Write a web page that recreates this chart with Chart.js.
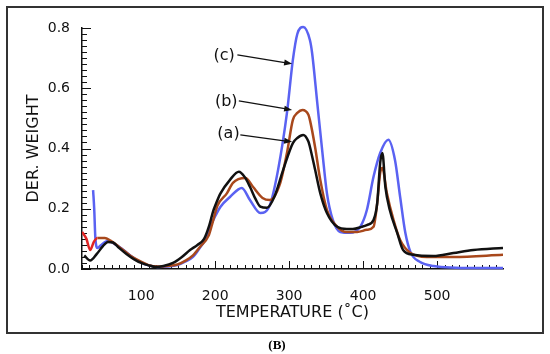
<!DOCTYPE html>
<html>
<head>
    <title>DTG curves (B)</title>
    <script src="https://cdn.jsdelivr.net/npm/chart.js@4.4.1/dist/chart.umd.min.js"></script>
    <style>
      body { margin: 0; background: #fff; }
      #wrap { width: 550px; height: 354px; }
    </style>
</head>
<body>
    <div id="wrap"><canvas id="myChart" width="550" height="354"></canvas></div>
    <script>
      // (a) black
      var tempA = [23, 31, 40, 48, 55, 62, 70, 80, 90, 100, 110, 120, 130, 143, 155, 166, 176, 185, 192, 197, 200, 207, 220, 232, 240, 247, 255, 261, 270, 280, 292, 305, 311, 319, 326, 328, 335, 342, 351, 365, 378, 386, 398, 405, 414, 419, 423, 426, 430, 436, 446, 454, 468, 495, 522, 549, 589];
      var derA  = [0.045, 0.028, 0.05, 0.075, 0.09, 0.088, 0.07, 0.05, 0.033, 0.02, 0.012, 0.007, 0.01, 0.02, 0.04, 0.063, 0.08, 0.1, 0.145, 0.19, 0.21, 0.25, 0.296, 0.323, 0.305, 0.273, 0.23, 0.207, 0.203, 0.24, 0.33, 0.418, 0.435, 0.445, 0.423, 0.406, 0.33, 0.252, 0.186, 0.14, 0.133, 0.133, 0.14, 0.146, 0.163, 0.219, 0.352, 0.385, 0.273, 0.196, 0.12, 0.063, 0.047, 0.043, 0.053, 0.063, 0.07];
      // (b) brown
      var tempB = [20, 26, 31, 36, 41, 51, 58, 72, 85, 99, 110, 122, 135, 149, 160, 170, 180, 191, 196, 203, 216, 224, 241, 251, 264, 274, 288, 297, 305, 311, 318, 326, 328, 335, 342, 351, 365, 378, 392, 405, 414, 419, 423, 426, 432, 441, 450, 464, 486, 522, 589];
      var derB  = [0.123, 0.1, 0.063, 0.09, 0.103, 0.103, 0.095, 0.07, 0.045, 0.025, 0.013, 0.008, 0.01, 0.015, 0.028, 0.045, 0.075, 0.11, 0.15, 0.21, 0.252, 0.286, 0.302, 0.273, 0.236, 0.229, 0.286, 0.385, 0.495, 0.518, 0.528, 0.512, 0.495, 0.405, 0.296, 0.196, 0.14, 0.123, 0.123, 0.13, 0.14, 0.219, 0.319, 0.335, 0.252, 0.163, 0.096, 0.053, 0.04, 0.04, 0.047];
      // (c) blue
      var tempC = [35, 36.5, 38, 41, 45, 55, 65, 76, 88, 99, 110, 122, 135, 149, 160, 170, 180, 187, 193, 200, 207, 220, 236, 247, 261, 274, 285, 297, 305, 311, 319, 328, 331, 338, 345, 351, 359, 369, 382, 396, 405, 414, 423, 434, 443, 450, 457, 464, 477, 495, 549, 589];
      var derC  = [0.262, 0.2, 0.106, 0.07, 0.078, 0.093, 0.082, 0.063, 0.04, 0.023, 0.012, 0.007, 0.008, 0.013, 0.025, 0.04, 0.073, 0.1, 0.14, 0.175, 0.206, 0.239, 0.269, 0.229, 0.186, 0.213, 0.329, 0.518, 0.694, 0.78, 0.803, 0.76, 0.717, 0.551, 0.385, 0.252, 0.163, 0.123, 0.12, 0.14, 0.196, 0.306, 0.385, 0.429, 0.362, 0.239, 0.12, 0.056, 0.023, 0.01, 0.003, 0.003];

      var xTicks = [100, 200, 300, 400, 500];
      var yTicks = [0, 0.2, 0.4, 0.6, 0.8];

      // labels with arrows: text at (tx,ty), arrow from (x0,y0) to (x1,y1), data units
      var callouts = [
        { text: '(c)', tx: 212, ty: 0.708, x0: 230, y0: 0.711, x1: 304, y1: 0.681 },
        { text: '(b)', tx: 215, ty: 0.555, x0: 232, y0: 0.558, x1: 304, y1: 0.528 },
        { text: '(a)', tx: 218, ty: 0.449, x0: 234, y0: 0.445, x1: 304, y1: 0.422 }
      ];

      function pts(xs, ys) {
        return xs.map(function(x, i) { return { x: x, y: ys[i] }; });
      }

      var font = 'DejaVu Sans';

      var extras = {
        id: 'extras',
        beforeDatasetsDraw: function(chart) {
          var ctx = chart.ctx, xs = chart.scales.x, ys = chart.scales.y;
          var a = chart.chartArea;
          ctx.save();
          ctx.strokeStyle = '#111';
          ctx.lineWidth = 1;
          ctx.beginPath();
          for (var v = 20; v <= 589; v += 10) {
            var px = Math.round(xs.getPixelForValue(v)) + 0.5;
            var len = (v % 100 === 0) ? 8 : 4;
            ctx.moveTo(px, a.bottom);
            ctx.lineTo(px, a.bottom - len);
          }
          for (var k = 0; k <= 40; k++) {
            var py = Math.round(ys.getPixelForValue(k * 0.02)) + 0.5;
            var l = (k % 10 === 0) ? 9 : 5;
            ctx.moveTo(a.left, py);
            ctx.lineTo(a.left + l, py);
          }
          ctx.stroke();
          ctx.restore();
        },
        afterDraw: function(chart) {
          var ctx = chart.ctx, xs = chart.scales.x, ys = chart.scales.y;
          ctx.save();
          // callouts
          ctx.fillStyle = '#111';
          ctx.strokeStyle = '#111';
          ctx.lineWidth = 1.2;
          ctx.font = '16px ' + font;
          ctx.textAlign = 'center';
          ctx.textBaseline = 'middle';
          callouts.forEach(function(c) {
            ctx.fillText(c.text, xs.getPixelForValue(c.tx), ys.getPixelForValue(c.ty));
            var x0 = xs.getPixelForValue(c.x0), y0 = ys.getPixelForValue(c.y0);
            var x1 = xs.getPixelForValue(c.x1), y1 = ys.getPixelForValue(c.y1);
            var ang = Math.atan2(y1 - y0, x1 - x0);
            ctx.beginPath();
            ctx.moveTo(x0, y0);
            ctx.lineTo(x1 - 6 * Math.cos(ang), y1 - 6 * Math.sin(ang));
            ctx.stroke();
            ctx.beginPath();
            ctx.moveTo(x1, y1);
            ctx.lineTo(x1 - 8 * Math.cos(ang) + 3 * Math.sin(ang), y1 - 8 * Math.sin(ang) - 3 * Math.cos(ang));
            ctx.lineTo(x1 - 8 * Math.cos(ang) - 3 * Math.sin(ang), y1 - 8 * Math.sin(ang) + 3 * Math.cos(ang));
            ctx.closePath();
            ctx.fill();
          });
          // outer frame + caption
          ctx.strokeStyle = '#333';
          ctx.lineWidth = 2;
          ctx.strokeRect(7, 7, 536, 326);
          ctx.fillStyle = '#000';
          ctx.font = 'bold 13px "Liberation Serif"';
          ctx.fillText('(B)', 277, 346);
          ctx.restore();
        }
      };

      var ctx = document.getElementById('myChart').getContext('2d');
      var myChart = new Chart(ctx, {
          type: 'line',
          data: {
              datasets: [{
                  label: '(a)',
                  data: pts(tempA, derA),
                  borderColor: '#111111',
                  borderWidth: 2.5
              }, {
                  label: '(b)',
                  data: pts(tempB, derB),
                  borderColor: '#a8481c',
                  borderWidth: 2.5,
                  segment: {
                      borderColor: function(c) { return c.p0.parsed.x < 38 ? '#e02424' : undefined; }
                  }
              }, {
                  label: '(c)',
                  data: pts(tempC, derC),
                  borderColor: '#5a62f2',
                  borderWidth: 2.5,
                  clip: false
              }]
          },
          options: {
              responsive: false,
              animation: false,
              elements: { point: { radius: 0 }, line: { cubicInterpolationMode: 'monotone' } },
              layout: { padding: { left: 7, right: 47, top: 28, bottom: 22 } },
              plugins: { legend: { display: false }, tooltip: { enabled: false } },
              scales: {
                  x: {
                      type: 'linear',
                      min: 20,
                      max: 589,
                      afterBuildTicks: function(s) { s.ticks = xTicks.map(function(v) { return { value: v }; }); },
                      afterFit: function(s) { s.height = 63; },
                      grid: { display: false },
                      border: { display: true, color: '#111', width: 1.5 },
                      ticks: { color: '#111', font: { family: font, size: 14 }, padding: 11, maxRotation: 0 },
                      title: { display: true, text: 'TEMPERATURE (˚C)', color: '#111',
                               font: { family: font, size: 16 }, padding: { top: 0, bottom: 10 } }
                  },
                  y: {
                      min: 0,
                      max: 0.8,
                      afterBuildTicks: function(s) { s.ticks = yTicks.map(function(v) { return { value: v }; }); },
                      afterFit: function(s) { s.width = 75; },
                      grid: { display: false },
                      border: { display: true, color: '#111', width: 1.5 },
                      ticks: { color: '#111', font: { family: font, size: 14 }, padding: 4,
                               callback: function(v) { return v.toFixed(1); } },
                      title: { display: true, text: 'DER. WEIGHT', color: '#111',
                               font: { family: font, size: 16 }, padding: { top: 17, bottom: 0 } }
                  }
              }
          },
          plugins: [extras]
      });
    </script>
</body>
</html>
